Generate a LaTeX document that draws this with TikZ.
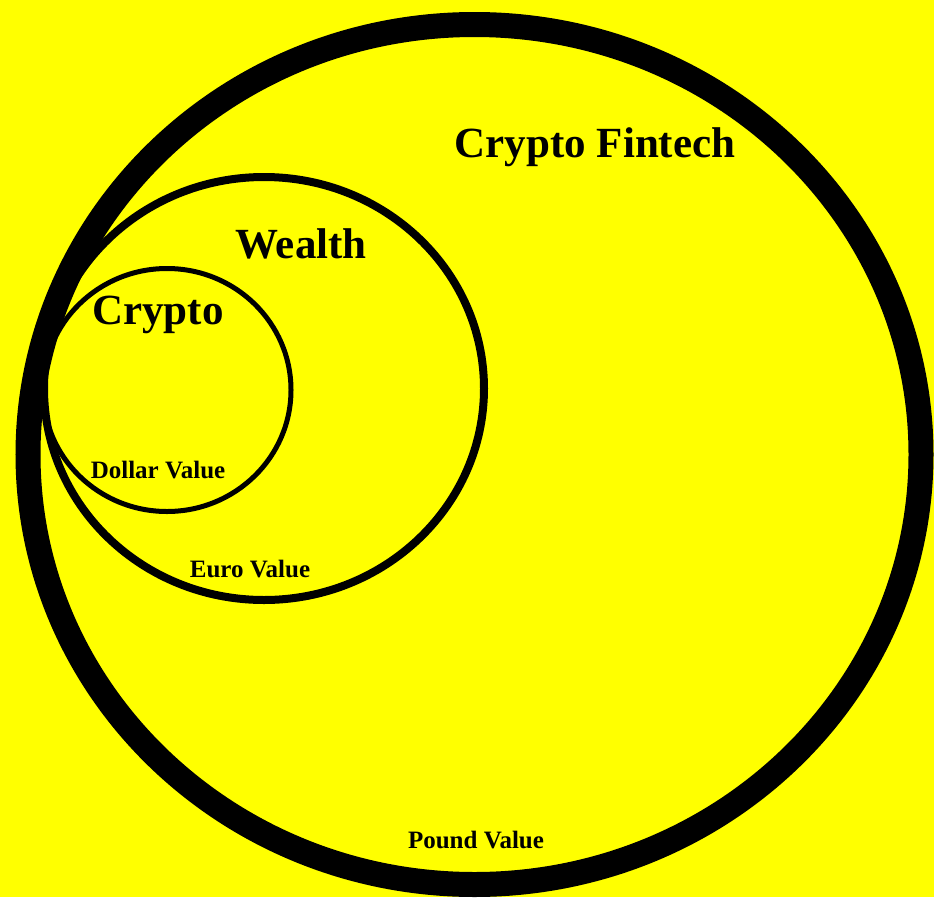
\documentclass[tikz,border=0pt]{standalone}
\usepackage{fontspec}
\setmainfont{Liberation Serif}
\definecolor{bgyellow}{RGB}{255,255,0}
\begin{document}
\begin{tikzpicture}[x=1pt,y=-1pt,
  ring/.style={draw=black},
  biglabel/.style={font=\fontsize{43}{43}\selectfont\bfseries, inner sep=0pt},
  smalllabel/.style={font=\fontsize{25}{25}\selectfont\bfseries, inner sep=0pt}]
\fill[bgyellow] (0,0) rectangle (934,897);
\useasboundingbox (0,0) rectangle (934,897);
% rings
\draw[ring, line width=25pt] (474.5,454.5) ellipse [x radius=446.5, y radius=430];
\draw[ring, line width=8pt] (264,388.5) ellipse [x radius=220, y radius=211.5];
\draw[ring, line width=5pt] (167,390) ellipse [x radius=124, y radius=121.5];
% labels
\node[biglabel] (fintech) at (595,147) {Crypto Fintech};
\node[biglabel] (wealth) at (301,244) {Wealth};
\node[biglabel] (crypto) at (158,315) {Crypto};
\node[smalllabel] (dollar) at (158,470) {Dollar Value};
\node[smalllabel] (euro) at (250,569) {Euro Value};
\node[smalllabel] (pound) at (476,840) {Pound Value};
\end{tikzpicture}
\end{document}
